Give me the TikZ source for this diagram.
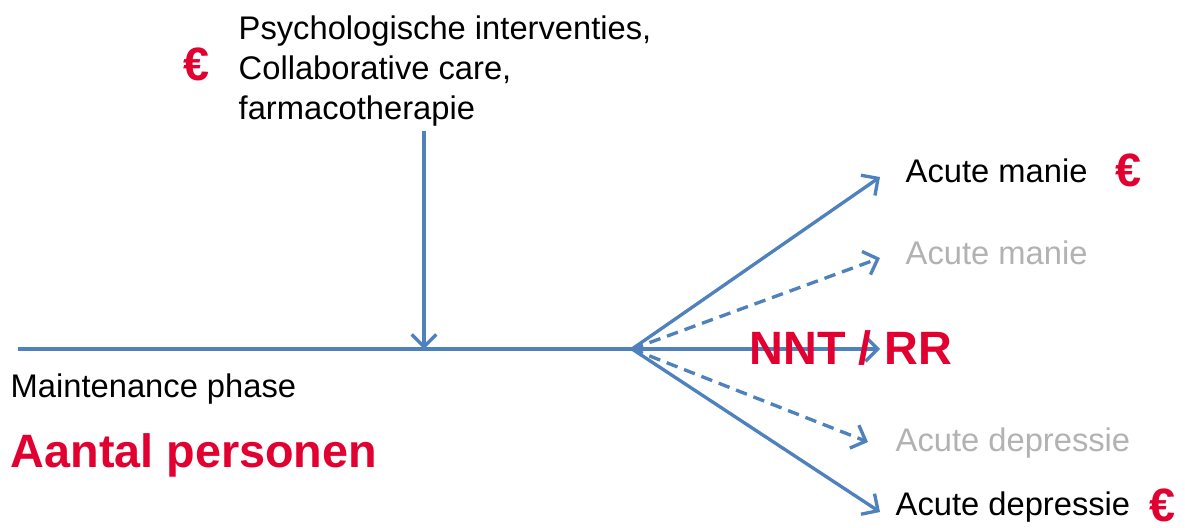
\documentclass[tikz,border=0pt]{standalone}
\usepackage{fontspec}
\setmainfont{Liberation Sans}
\usetikzlibrary{arrows.meta}
\definecolor{lijnblauw}{RGB}{79,129,189}
\definecolor{euroood}{RGB}{226,0,48}
\definecolor{grijs}{RGB}{178,178,178}
\tikzset{
	lijn/.style={draw=lijnblauw, line width=0.95pt},
	pijl/.style={lijn, -{Straight Barb[length=3.5pt,width=7pt]}},
	stippijl/.style={pijl, dash pattern=on 3.3pt off 2pt},
	tekst/.style={inner sep=0pt, font=\fontsize{9.3}{11.4}\selectfont},
	rood/.style={inner sep=0pt, text=euroood, font=\fontsize{13.3}{16}\selectfont\bfseries},
}
\begin{document}
\begin{tikzpicture}[x=0.01cm, y=-0.01cm]
	\useasboundingbox (0,0) rectangle (1185,527);
	%interventies bovenaan met euroteken
	\node [tekst, anchor=north west, align=left] (interv) at (238,15) {Psychologische interventies,\\Collaborative care,\\farmacotherapie};
	\node [rood] (euro0) at (197,64) {€};
	%tijdlijn van de onderhoudsfase
	\coordinate (start) at (18,349);
	\coordinate (inval) at (424,349);
	\coordinate (fan) at (632,349);
	\draw [lijn] (start) -- (fan);
	%pijl van de interventies naar de tijdlijn
	\draw [pijl] (interv.south -| inval) ++(0,4) -- (inval);
	%teksten onder de lijn
	\node [tekst, anchor=base west] (onderhoud) at (10,397) {Maintenance phase};
	\node [rood, anchor=base west] (aantal) at (10,467) {Aantal personen};
	%eindpunten van de waaier
	\coordinate (t1) at (880,177);
	\coordinate (t2) at (880,258);
	\coordinate (t3) at (880,349);
	\coordinate (t4) at (868,442);
	\coordinate (t5) at (880,512);
	%waaier van pijlen
	\foreach \doel/\stijl in {t1/pijl, t2/stippijl, t3/pijl, t4/stippijl, t5/pijl}
		\draw [\stijl] (fan) -- (\doel);
	%uitkomsten rechts
	\node [tekst, anchor=base west] (manie1) at (905,182) {Acute manie};
	\node [rood] (euro1) at (1128,170) {€};
	\node [tekst, text=grijs, anchor=base west] (manie2) at (905,264) {Acute manie};
	\node [rood, anchor=base] (nnt) at (851,364) {NNT / RR};
	\node [tekst, text=grijs, anchor=base west] (depr2) at (895,451) {Acute depressie};
	\node [tekst, anchor=base west] (depr1) at (895,515) {Acute depressie};
	\node [rood] (euro2) at (1162,505) {€};
\end{tikzpicture}
\end{document}
